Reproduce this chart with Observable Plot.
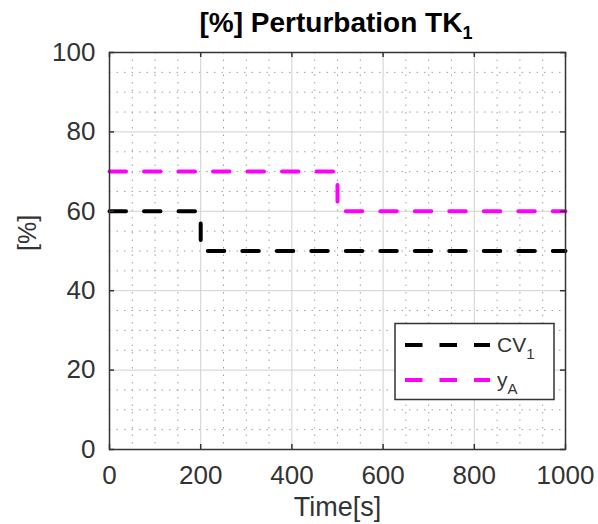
<!DOCTYPE html>
<html><head><meta charset="utf-8">
<script src="https://cdn.jsdelivr.net/npm/d3@7"></script>
<script src="https://cdn.jsdelivr.net/npm/@observablehq/plot@0.6"></script>
<style>body{margin:0;background:#fff} svg{display:block}</style>
</head><body><div id="chart"></div>
<script>
const cvTime = [0, 200, 1000];
const cvValue = [60, 50, 50];
const yaTime = [0, 500, 1000];
const yaValue = [70, 60, 60];
const xTicks = [0, 200, 400, 600, 800, 1000];
const yTicks = [0, 20, 40, 60, 80, 100];
const xMinor = [50, 100, 150, 250, 300, 350, 450, 500, 550, 650, 700, 750, 850, 900, 950];
const yMinor = [5, 10, 15, 25, 30, 35, 45, 50, 55, 65, 70, 75, 85, 90, 95];
const titleMain = "[%] Perturbation TK";
const titleSub = "1";
const xLabel = "Time[s]";
const yLabel = "[%]";
const seriesNames = [["CV", "1"], ["y", "A"]];
const seriesColors = ["#000000", "#ff00ff"];

const cv = cvTime.map((t, i) => ({t, v: cvValue[i]}));
const ya = yaTime.map((t, i) => ({t, v: yaValue[i]}));

const FONT = "'Liberation Sans', Arial, sans-serif";
const W = 598, H = 524, mL = 109, mR = 33, mT = 52, mB = 75;
const innerW = W - mL - mR, innerH = H - mT - mB;
const axisColor = "#333333";

const chart = Plot.plot({
  width: W, height: H,
  marginLeft: mL, marginRight: mR, marginTop: mT, marginBottom: mB,
  style: {fontFamily: FONT, fontSize: "26px", color: axisColor, background: "#fff"},
  x: {domain: [0, 1000]},
  y: {domain: [0, 100]},
  marks: [
    Plot.ruleX(xMinor, {stroke: "#a0a0a0", strokeDasharray: "1.5,6", strokeWidth: 1}),
    Plot.ruleY(yMinor, {stroke: "#a0a0a0", strokeDasharray: "1.5,6", strokeWidth: 1}),
    Plot.ruleX(xTicks, {stroke: "#d0d0d0", strokeWidth: 1}),
    Plot.ruleY(yTicks, {stroke: "#d0d0d0", strokeWidth: 1}),
    Plot.line(cv, {x: "t", y: "v", curve: "step-after", stroke: seriesColors[0], strokeWidth: 4, strokeDasharray: "16.5,18"}),
    Plot.line(ya, {x: "t", y: "v", curve: "step-after", stroke: seriesColors[1], strokeWidth: 4, strokeDasharray: "16.5,18"}),
    Plot.ruleX(xTicks, {insetTop: innerH - 5, stroke: axisColor, strokeWidth: 1.5}),
    Plot.ruleX(xTicks, {insetBottom: innerH - 5, stroke: axisColor, strokeWidth: 1.5}),
    Plot.ruleY(yTicks, {insetRight: innerW - 5, stroke: axisColor, strokeWidth: 1.5}),
    Plot.ruleY(yTicks, {insetLeft: innerW - 5, stroke: axisColor, strokeWidth: 1.5}),
    Plot.frame({stroke: axisColor, strokeWidth: 1.5}),
    Plot.axisX(xTicks, {tickSize: 0, tickPadding: 16, label: null, tickFormat: d => String(d)}),
    Plot.axisY(yTicks, {tickSize: 0, tickPadding: 14, label: null, tickFormat: d => String(d)}),
    Plot.text([xLabel], {frameAnchor: "bottom", dy: 58, lineAnchor: "middle", fontSize: 27}),
    Plot.text([yLabel], {frameAnchor: "left", dx: -82, lineAnchor: "middle", rotate: -90, fontSize: 25})
  ]
});

const svg = d3.select(chart);
const t = svg.append("text")
  .attr("x", 336).attr("y", 32)
  .attr("text-anchor", "middle")
  .attr("font-family", FONT).attr("font-size", 28).attr("font-weight", "bold")
  .attr("fill", "#000");
t.append("tspan").text(titleMain);
t.append("tspan").attr("font-size", 18).attr("dy", 7).text(titleSub);

const lg = svg.append("g").attr("font-family", FONT).attr("text-anchor", "start");
lg.append("rect").attr("x", 395).attr("y", 323.5).attr("width", 159).attr("height", 76)
  .attr("fill", "#fff").attr("stroke", axisColor).attr("stroke-width", 1.5);
seriesNames.forEach((n, i) => {
  const y = 345 + i * 35;
  lg.append("line").attr("x1", 405).attr("x2", 490).attr("y1", y).attr("y2", y)
    .attr("stroke", seriesColors[i]).attr("stroke-width", 4).attr("stroke-dasharray", "17.5,17");
  const tx = lg.append("text").attr("x", 497).attr("y", y + 7)
    .attr("text-anchor", "start")
    .attr("font-size", 21).attr("fill", axisColor);
  tx.append("tspan").text(n[0]);
  tx.append("tspan").attr("font-size", 15).attr("dy", 7).text(n[1]);
});

document.getElementById("chart").appendChild(chart);
</script>
</body></html>
